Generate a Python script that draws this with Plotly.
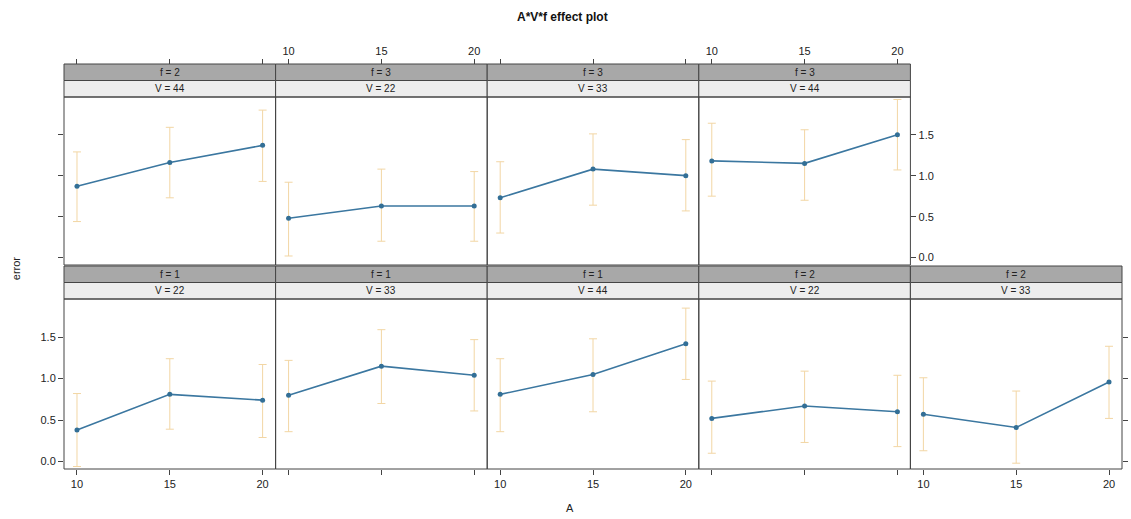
import plotly.graph_objects as go

A = [10, 15, 20]
panels_f = [1, 1, 1, 2, 2, 2, 3, 3, 3]
panels_V = [22, 33, 44, 22, 33, 44, 22, 33, 44]
fit = [
    [0.38, 0.81, 0.74],
    [0.80, 1.15, 1.04],
    [0.81, 1.05, 1.42],
    [0.52, 0.67, 0.60],
    [0.57, 0.41, 0.96],
    [0.87, 1.16, 1.37],
    [0.48, 0.63, 0.63],
    [0.73, 1.08, 1.00],
    [1.18, 1.15, 1.50],
]
upper = [
    [0.82, 1.24, 1.17],
    [1.22, 1.59, 1.47],
    [1.24, 1.48, 1.85],
    [0.97, 1.09, 1.04],
    [1.01, 0.85, 1.39],
    [1.29, 1.59, 1.80],
    [0.92, 1.08, 1.05],
    [1.17, 1.51, 1.44],
    [1.64, 1.56, 1.93],
]
lower = [
    [-0.06, 0.39, 0.29],
    [0.36, 0.70, 0.61],
    [0.36, 0.60, 0.99],
    [0.10, 0.23, 0.18],
    [0.13, -0.02, 0.52],
    [0.44, 0.73, 0.93],
    [0.02, 0.20, 0.20],
    [0.30, 0.64, 0.57],
    [0.75, 0.70, 1.07],
]
y_ticks = [0.0, 0.5, 1.0, 1.5]
x_ticks = [10, 15, 20]

W, H = 1131, 519
ml, mr, mt, mb = 64, 4, 64, 50
pw = W - ml - mr
ph = H - mt - mb

def py(pix):
    return (H - mb - pix) / ph

ncol = 5
colw = 1.0 / ncol
# rows: 0 = bottom, 1 = top
row_panel = {0: (py(469), py(299)), 1: (py(265), py(97))}
row_strip = {0: (py(299), py(266)), 1: (py(97), py(64))}

XR = [9.3, 20.7]
YR = [-0.09, 1.96]
LINE = "#3b77a0"
ERR = "#f2d6a4"
BORDER = "#444444"
TXT = "#222222"
FONT = "Liberation Sans, Arial, sans-serif"

fig = go.Figure()
layout = {}
shapes = []
annotations = []

for i in range(9):
    if i < 5:
        row, col = 0, i
    else:
        row, col = 1, i - 5
    k = i + 1
    xa = "x" if k == 1 else f"x{k}"
    ya = "y" if k == 1 else f"y{k}"
    xkey = "xaxis" if k == 1 else f"xaxis{k}"
    ykey = "yaxis" if k == 1 else f"yaxis{k}"
    x0, x1 = col * colw, (col + 1) * colw
    d0, d1 = row_panel[row]

    err_plus = [u - f for u, f in zip(upper[i], fit[i])]
    err_minus = [f - l for f, l in zip(fit[i], lower[i])]
    fig.add_trace(go.Scatter(
        x=A, y=fit[i], xaxis=xa, yaxis=ya, mode="lines+markers",
        line=dict(color=LINE, width=1.6),
        marker=dict(color="#336f96", size=5),
        error_y=dict(type="data", symmetric=False, array=err_plus,
                     arrayminus=err_minus, color=ERR, thickness=1, width=4),
        showlegend=False, hoverinfo="skip"))

    if row == 0:
        xax = dict(domain=[x0, x1], range=XR, anchor=ya, side="bottom",
                   showline=False, ticks="outside", ticklen=5, tickcolor=BORDER,
                   tickvals=x_ticks, showticklabels=(col % 2 == 0),
                   showgrid=False, zeroline=False,
                   tickfont=dict(size=11, color=TXT, family=FONT))
    else:
        xax = dict(domain=[x0, x1], range=XR, anchor=ya, showline=False,
                   ticks="", showticklabels=False, showgrid=False, zeroline=False)
    layout[xkey] = xax

    yax = dict(domain=[d0, d1], range=YR, anchor=xa, showgrid=False,
               zeroline=False, showline=False, tickvals=y_ticks,
               tickfont=dict(size=11, color=TXT, family=FONT))
    if row == 0 and col == 0:
        yax.update(side="left", ticks="outside", ticklen=5, tickcolor=BORDER,
                   showticklabels=True, tickformat=".1f")
    elif row == 0 and col == 4:
        yax.update(side="right", ticks="outside", ticklen=5, tickcolor=BORDER,
                   showticklabels=False)
    elif row == 1 and col == 0:
        yax.update(side="left", ticks="outside", ticklen=5, tickcolor=BORDER,
                   showticklabels=False)
    elif row == 1 and col == 3:
        yax.update(side="right", ticks="outside", ticklen=5, tickcolor=BORDER,
                   showticklabels=True, tickformat=".1f")
    else:
        yax.update(ticks="", showticklabels=False)
    layout[ykey] = yax

    # panel border
    shapes.append(dict(type="rect", xref="paper", yref="paper", x0=x0, x1=x1,
                       y0=d0, y1=d1, fillcolor="rgba(0,0,0,0)",
                       line=dict(color=BORDER, width=1), layer="above"))
    # strips
    s0, s1 = row_strip[row]
    smid = (s0 + s1) / 2
    shapes.append(dict(type="rect", xref="paper", yref="paper", x0=x0, x1=x1,
                       y0=smid, y1=s1, fillcolor="#a8a8a8",
                       line=dict(color=BORDER, width=1), layer="below"))
    shapes.append(dict(type="rect", xref="paper", yref="paper", x0=x0, x1=x1,
                       y0=s0, y1=smid, fillcolor="#ededed",
                       line=dict(color=BORDER, width=1), layer="below"))
    annotations.append(dict(x=(x0 + x1) / 2, y=(smid + s1) / 2, xref="paper",
                            yref="paper", text=f"f = {panels_f[i]}",
                            xanchor="center", yanchor="middle",
                            showarrow=False, font=dict(size=10, color=TXT, family=FONT)))
    annotations.append(dict(x=(x0 + x1) / 2, y=(s0 + smid) / 2, xref="paper",
                            yref="paper", text=f"V = {panels_V[i]}",
                            xanchor="center", yanchor="middle",
                            showarrow=False, font=dict(size=10, color=TXT, family=FONT)))

# top x axes above the strips of the top row
for col in range(4):
    k = 10 + col
    i = 5 + col + 1
    base_x = f"x{i}"
    base_y = f"y{i}"
    x0, x1 = col * colw, (col + 1) * colw
    layout[f"xaxis{k}"] = dict(domain=[x0, x1], range=XR, anchor="free",
                               position=1.0, overlaying=base_x, side="top",
                               ticks="outside", ticklen=5, tickcolor=BORDER,
                               tickvals=x_ticks, showticklabels=(col % 2 == 1),
                               showgrid=False, zeroline=False, showline=False,
                               tickfont=dict(size=11, color=TXT, family=FONT))
    fig.add_trace(go.Scatter(x=[15], y=[None], xaxis=f"x{k}", yaxis=base_y,
                             mode="markers", showlegend=False, hoverinfo="skip"))

annotations.append(dict(x=0.5 + (565 - ml - pw / 2) / pw, y=(H - mb - 17) / ph,
                        xref="paper", yref="paper", text="<b>A*V*f effect plot</b>",
                        xanchor="center", yanchor="middle",
                        showarrow=False, font=dict(size=12, color="#111111", family=FONT)))
annotations.append(dict(x=(572 - ml) / pw, y=(H - mb - 508) / ph, xref="paper",
                        yref="paper", text="A", showarrow=False,
                        xanchor="center", yanchor="middle",
                        font=dict(size=11, color=TXT, family=FONT)))
annotations.append(dict(x=(16 - ml) / pw, y=(H - mb - 268) / ph, xref="paper",
                        yref="paper", text="error", textangle=-90, showarrow=False,
                        xanchor="center", yanchor="middle",
                        font=dict(size=11, color=TXT, family=FONT)))

fig.update_layout(width=W, height=H, margin=dict(l=ml, r=mr, t=mt, b=mb),
                  paper_bgcolor="white", plot_bgcolor="white",
                  shapes=shapes, annotations=annotations, **layout)
fig.write_html("out.html")
